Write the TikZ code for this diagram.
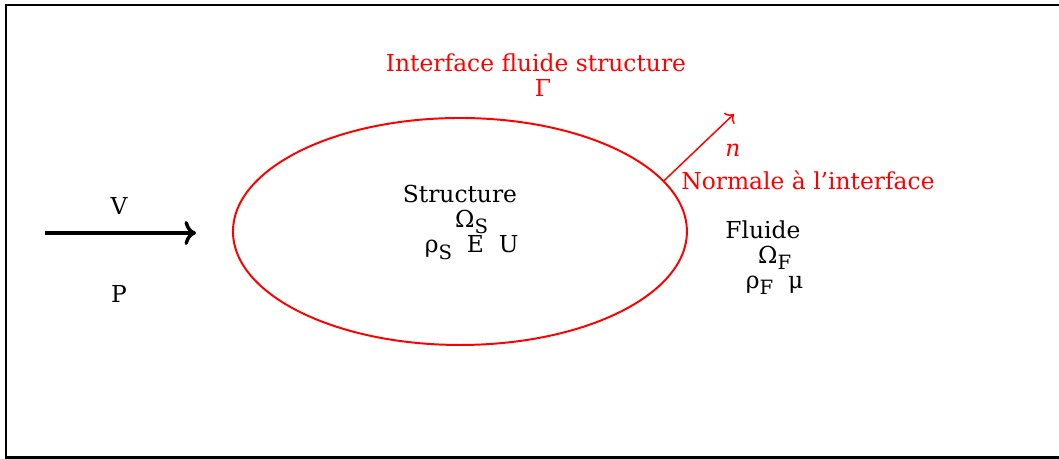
\documentclass[tikz,border=0pt]{standalone}
\usepackage{fontspec}
\setmainfont{DejaVu Serif}
\usepackage{tikz}
\usetikzlibrary{arrows.meta,positioning,shapes.geometric}
\usepackage{xcolor}
\newcommand{\lowsub}[1]{\raisebox{-0.5ex}{\footnotesize #1}}

\begin{document}
\begin{tikzpicture}[
  every node/.style={font=\fontsize{9.5pt}{10.2pt}\selectfont},
  interface/.style={draw=red, thick},
  label_int/.style={text=red, align=center},
  label_dom/.style={text=black, align=center, inner sep=1pt},
  flow/.style={->, line width=1.4pt}
]
\useasboundingbox (0,0) rectangle (15.129,6.557);

% Frame
\draw[line width=1pt] (15.4,0.02) -- (0.086,0.02) -- (0.086,6.486) -- (15.4,6.486);

% Structure (inside the interface)
\node[ellipse, interface, minimum width=6.486cm, minimum height=3.243cm] (struct) at (6.571,3.25) {};
\node[label_dom] (solid) at (6.571,3.38)
  {Structure\\ \hspace*{1em}Ω\lowsub{S}\\ \hspace*{1em}ρ\lowsub{S}~~E~~U};

% Interface and normal
\node[label_int] (gamma) at (7.657,5.49) {Interface fluide structure\\ \hspace*{0.6em}Γ};
\coordinate (tip) at (10.486,4.929);
\draw[->, red, semithick] (struct.14.4) -- (tip);
\node[text=red] (normal) at (10.471,4.414) {\itshape n};
\node[text=red] (normtxt) at (11.543,3.986) {Normale à l’interface};

% Fluid
\node[label_dom] (fluid) at (10.9,2.88)
  {Fluide\\ \hspace*{1em}Ω\lowsub{F}\\ \hspace*{1em}ρ\lowsub{F}~~μ};

% Inflow
\coordinate (in0) at (0.643,3.229);
\coordinate (in1) at (2.8,3.229);
\draw[flow] (in0) -- (in1);
\node (velo) at (1.7,3.614) {V};
\node (press) at (1.7,2.357) {P};

\end{tikzpicture}
\end{document}
